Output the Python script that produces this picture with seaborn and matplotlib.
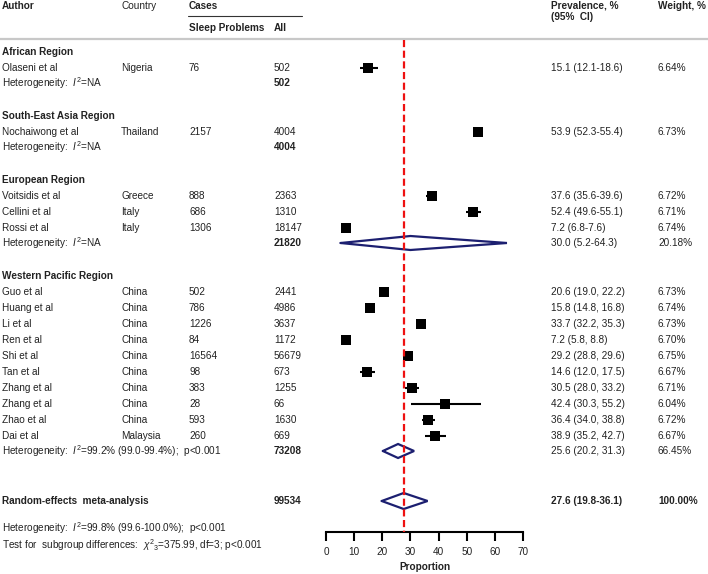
import matplotlib
matplotlib.use("Agg")
import matplotlib.pyplot as plt
import matplotlib.transforms as mtransforms
import pandas as pd
import seaborn as sns

# === data ===
regions = ["African Region", "South-East Asia Region", "European Region", "Western Pacific Region"]
authors = ["Olaseni et al", "Nochaiwong et al", "Voitsidis et al", "Cellini et al", "Rossi et al",
           "Guo et al", "Huang et al", "Li et al", "Ren et al", "Shi et al", "Tan et al",
           "Zhang et al", "Zhang et al", "Zhao et al", "Dai et al"]
study_region = [0, 1, 2, 2, 2, 3, 3, 3, 3, 3, 3, 3, 3, 3, 3]
countries = ["Nigeria", "Thailand", "Greece", "Italy", "Italy", "China", "China", "China", "China",
             "China", "China", "China", "China", "China", "Malaysia"]
sleep_cases = [76, 2157, 888, 686, 1306, 502, 786, 1226, 84, 16564, 98, 383, 28, 593, 260]
all_cases = [502, 4004, 2363, 1310, 18147, 2441, 4986, 3637, 1172, 56679, 673, 1255, 66, 1630, 669]
prevalence = [15.1, 53.9, 37.6, 52.4, 7.2, 20.6, 15.8, 33.7, 7.2, 29.2, 14.6, 30.5, 42.4, 36.4, 38.9]
ci_low = [12.1, 52.3, 35.6, 49.6, 6.8, 19.0, 14.8, 32.2, 5.8, 28.8, 12.0, 28.0, 30.3, 34.0, 35.2]
ci_high = [18.6, 55.4, 39.6, 55.1, 7.6, 22.2, 16.8, 35.3, 8.8, 29.6, 17.5, 33.2, 55.2, 38.8, 42.7]
weights = ["6.64%", "6.73%", "6.72%", "6.71%", "6.74%", "6.73%", "6.74%", "6.73%", "6.70%",
           "6.75%", "6.67%", "6.71%", "6.04%", "6.72%", "6.67%"]

group_total = [502, 4004, 21820, 73208]
group_het = ["NA", "NA", "NA", "99.2% (99.0-99.4%);  p<0.001"]
group_est = [None, None, 30.0, 25.6]
group_low = [None, None, 5.2, 20.2]
group_high = [None, None, 64.3, 31.3]
group_weight = [None, None, "20.18%", "66.45%"]

overall_total = 99534
overall_est, overall_low, overall_high = 27.6, 19.8, 36.1
overall_het = "99.8% (99.6-100.0%);  p<0.001"
subgroup_test = "375.99, df=3; p<0.001"
x_ticks = [0, 10, 20, 30, 40, 50, 60, 70]

# === styling ===
sns.set_theme(style="white")
plt.rcParams["font.family"] = ["Liberation Sans", "DejaVu Sans"]
plt.rcParams["mathtext.fontset"] = "custom"
plt.rcParams["mathtext.rm"] = "Liberation Sans"
plt.rcParams["mathtext.it"] = "Liberation Sans:italic"
plt.rcParams["mathtext.bf"] = "Liberation Sans:bold"
FS = 7.2
TXT = "#222222"
NAVY = "#1c1f70"

W, H = 708, 574
fig = plt.figure(figsize=(W / 100, H / 100), dpi=100)
ax = fig.add_axes([326 / W, 0, 197 / W, 1])
ax.set_xlim(0, 70)
ax.set_ylim(H, 0)
tr = mtransforms.blended_transform_factory(fig.transFigure, ax.transData)


def put(px, y, s, bold=False, **kw):
    ax.text(px / W, y, s, transform=tr, fontsize=FS, color=TXT, va="center",
            fontweight="bold" if bold else "normal", **kw)


# === row layout ===
region_start = [52, 116, 180, 276]
step = 16
rows_y = []
het_y = []
for g, y0 in enumerate(region_start):
    n = study_region.count(g)
    rows_y += [y0 + step * (k + 1) for k in range(n)]
    het_y.append(y0 + step * (n + 1) - 1)
overall_y = 501

# === header ===
put(2, 6, "Author", bold=True)
put(121, 6, "Country")
put(189, 6, "Cases", bold=True)
put(189, 28, "Sleep Problems", bold=True)
put(274, 28, "All", bold=True)
put(551, 6, "Prevalence, %", bold=True)
put(551, 17, "(95%  CI)", bold=True)
put(658, 6, "Weight, %", bold=True)
ax.plot([188 / W, 302 / W], [16, 16], transform=tr, color="#333333", lw=0.8, clip_on=False)
ax.plot([0, 1], [39, 39], transform=tr, color="#c8c8c8", lw=1.6, clip_on=False)

# === study rows ===
for i, y in enumerate(rows_y):
    put(2, y, authors[i])
    put(121, y, countries[i])
    put(189, y, str(sleep_cases[i]))
    put(274, y, str(all_cases[i]))
    if study_region[i] == 3:
        lab = f"{prevalence[i]:.1f} ({ci_low[i]:.1f}, {ci_high[i]:.1f})"
    else:
        lab = f"{prevalence[i]:.1f} ({ci_low[i]:.1f}-{ci_high[i]:.1f})"
    put(551, y, lab)
    put(658, y, weights[i])
    ax.hlines(y, ci_low[i], ci_high[i], color="black", lw=1.5, zorder=3)

df = pd.DataFrame({"prev": prevalence, "y": rows_y})
sns.scatterplot(data=df, x="prev", y="y", marker="s", s=44, color="black",
                linewidth=0, ax=ax, zorder=4, legend=False)


def diamond(est, lo, hi, y, h=7):
    ax.plot([lo, est, hi, est, lo], [y, y - h, y, y + h, y], color=NAVY, lw=1.6,
            zorder=4, solid_joinstyle="miter")


# === region titles + heterogeneity rows ===
for g, y0 in enumerate(region_start):
    put(2, y0, regions[g], bold=True)
    put(2, het_y[g], f"Heterogeneity:  $I^2$={group_het[g]}")
    put(274, het_y[g], str(group_total[g]), bold=True)
    if group_est[g] is not None:
        diamond(group_est[g], group_low[g], group_high[g], het_y[g])
        if g == 3:
            lab = f"{group_est[g]:.1f} ({group_low[g]:.1f}, {group_high[g]:.1f})"
        else:
            lab = f"{group_est[g]:.1f} ({group_low[g]:.1f}-{group_high[g]:.1f})"
        put(551, het_y[g], lab)
        put(658, het_y[g], group_weight[g])

# === overall ===
put(2, overall_y, "Random-effects  meta-analysis", bold=True)
put(274, overall_y, str(overall_total), bold=True)
put(551, overall_y, f"{overall_est} ({overall_low}-{overall_high})", bold=True)
put(658, overall_y, "100.00%", bold=True)
diamond(overall_est, overall_low, overall_high, overall_y, h=8)
put(2, 528, f"Heterogeneity:  $I^2$={overall_het}")
put(2, 545, "Test for  subgroup differences:  $\\chi^2{}_3$=" + subgroup_test)

ax.vlines(overall_est, 40, 532, color="#ee1111", lw=1.6, linestyles=(0, (3.2, 1.6)), zorder=5)

# === x axis ===
for sp in ["top", "left", "right"]:
    ax.spines[sp].set_visible(False)
ax.spines["bottom"].set_position(("data", 532))
ax.spines["bottom"].set_bounds(0, 70)
ax.spines["bottom"].set_color("black")
ax.spines["bottom"].set_linewidth(1.5)
ax.set_yticks([])
ax.set_xticks(x_ticks)
ax.tick_params(axis="x", direction="out", length=6.5, width=1.5, color="black",
               labelsize=FS, labelcolor=TXT, pad=4, bottom=True)
ax.set_xlabel("")
ax.set_ylabel("")
ax.text(35, 567, "Proportion", ha="center", va="center", fontsize=FS, fontweight="bold", color=TXT)
ax.patch.set_alpha(0)

fig.savefig("out.png", dpi=100, facecolor="white")
